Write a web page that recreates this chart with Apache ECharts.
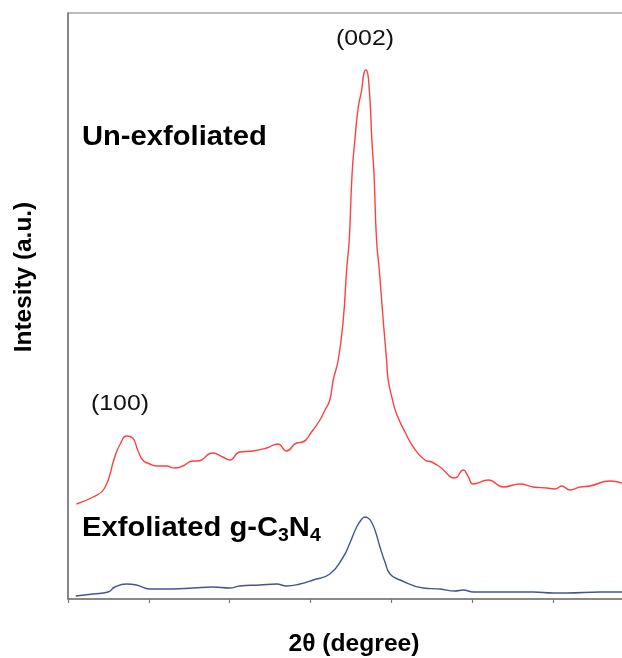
<!DOCTYPE html>
<html><head><meta charset="utf-8">
<script src="https://cdn.jsdelivr.net/npm/echarts@6/dist/echarts.min.js"></script>
<style>html,body{margin:0;padding:0;background:#fff}#c{width:622px;height:658px}</style>
</head><body><div id="c"></div>
<script>
// 2θ (degree) and intensity (a.u.)
var unexfX = [10.52,11.55,12.27,12.89,13.26,13.61,14.0,14.31,14.62,15.06,15.47,16.09,16.6,17.1,17.72,18.03,18.95,19.57,20.0,20.62,21.43,22.28,22.98,23.51,24.13,24.52,25.06,25.58,25.89,26.19,26.4,26.71,27.02,27.23,27.39,27.57,27.74,27.95,28.16,28.29,28.42,28.54,28.63,28.7,28.79,28.92,29.08,29.25,29.49,29.7,29.8,30.07,30.32,30.84,31.35,32.07,32.49,33.0,33.93,34.44,34.73,35.06,35.99,36.92,37.95,38.77,39.6,40.12,40.53,41.04,41.66,42.28,43.52,44.26];
var unexfY = [95,102,111,142,156,163,161,149,139,135,133,133,131,133,138,138,146,142,139,147,148,151,155,148,156,157,167,179,189,199,219,239,279,329,359,426,459,492,509,525,529,525,509,492,459,426,359,329,279,239,219,199,185,167,152,139,137,132,121,129,123,115,119,112,115,112,111,110,113,109,112,113,118,116];
var exfX = [10.48,11.55,12.48,12.89,13.61,14.23,15.06,16.5,17.74,18.97,20.0,20.62,21.86,22.9,23.51,24.34,25.16,26.19,27.02,27.43,27.85,28.17,28.36,28.55,28.77,29.04,29.29,29.6,29.91,30.53,31.97,33.0,33.93,34.44,35.06,36.71,38.77,40.01,40.84,42.9,44.26];
var exfY = [3,5,7,12,15,14,10,10,11,12,11,13,14,15,13,15,19,25,42,56,72,80,82,81,77,66,52,37,25,19,11,10,8,9,7,7,7,6,6,7,7];
var xTickStep = 5;

function pairs(xs, ys){ return xs.map(function(x,i){ return [x, ys[i]]; }); }
var chart = echarts.init(document.getElementById('c'));
var F = 'Liberation Sans, Arial, sans-serif';
chart.setOption({
  animation:false,
  grid:{left:68, top:13, right:-12, bottom:59, outerBoundsMode:'none', containLabel:false, show:true, borderColor:'#7a7a7a', borderWidth:1.2},
  xAxis:{type:'value', min:10, max:45, interval:xTickStep,
    axisLine:{show:true, lineStyle:{color:'#7a7a7a', width:1.5}},
    axisTick:{show:true, length:4, lineStyle:{color:'#7a7a7a', width:1.2}},
    axisLabel:{show:false}, splitLine:{show:false}},
  yAxis:{type:'value', min:0, max:586,
    axisLine:{show:true, lineStyle:{color:'#7a7a7a', width:1.5}},
    axisTick:{show:false}, axisLabel:{show:false}, splitLine:{show:false}},
  series:[
    {type:'line', data:pairs(unexfX, unexfY), smooth:0.5, symbol:'none', lineStyle:{color:'#ff4040', width:1.4}},
    {type:'line', data:pairs(exfX, exfY), smooth:0.5, symbol:'none', lineStyle:{color:'#44568e', width:1.4}}
  ],
  graphic:[
    {type:'text', x:336, y:28, scaleX:1.13, style:{text:'(002)', font:'22px '+F, fill:'#111', verticalAlign:'top'}},
    {type:'text', x:91, y:393, scaleX:1.13, style:{text:'(100)', font:'22px '+F, fill:'#111', verticalAlign:'top'}},
    {type:'text', x:82, y:124, scaleX:1.08, style:{text:'Un-exfoliated', font:'bold 27px '+F, fill:'#000', verticalAlign:'top'}},
    {type:'text', x:82, y:515, scaleX:1.08, style:{text:'Exfoliated g-C{s|3}N{s|4}', font:'bold 27px '+F, fill:'#000', verticalAlign:'top',
      rich:{s:{font:'bold 18px '+F, fill:'#000', verticalAlign:'bottom', padding:[0,0,-3,0]}}}},
    {type:'text', x:25, y:277, rotation:Math.PI/2, scaleX:1.06, style:{text:'Intesity (a.u.)', font:'bold 23px '+F, fill:'#000', align:'center', verticalAlign:'middle'}},
    {type:'text', x:354, y:645, scaleX:1.07, style:{text:'2θ (degree)', font:'bold 23px '+F, fill:'#000', align:'center', verticalAlign:'middle'}}
  ]
});
</script></body></html>
